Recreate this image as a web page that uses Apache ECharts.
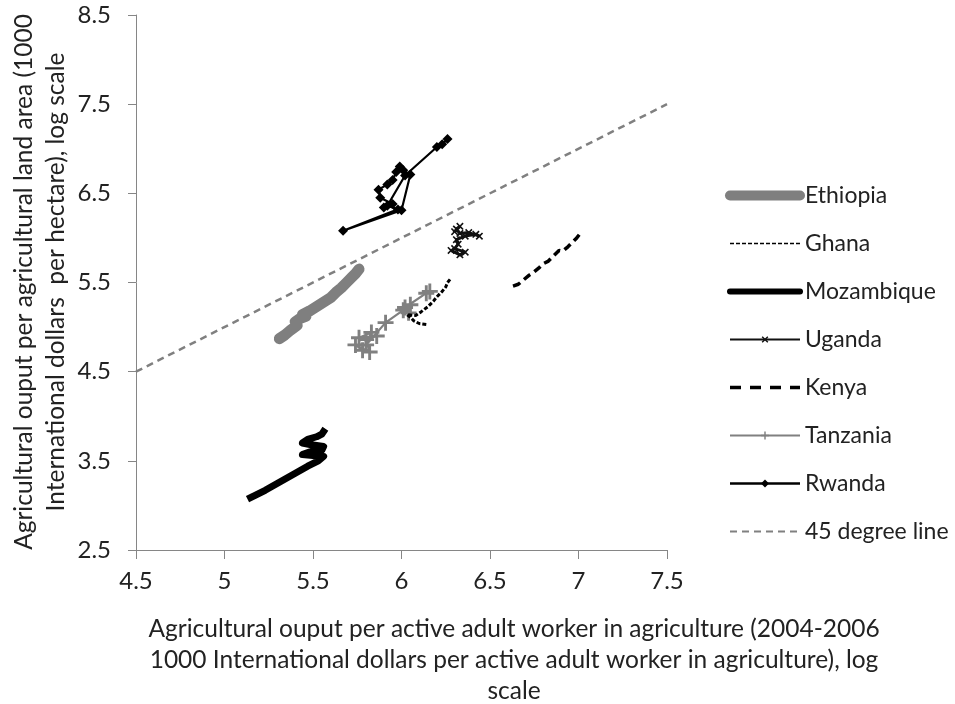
<!DOCTYPE html>
<html>
<head>
<meta charset="utf-8">
<script src="https://cdn.jsdelivr.net/npm/echarts@6/dist/echarts.min.js"></script>
<style>html,body{margin:0;padding:0;background:#fff}#c{width:955px;height:704px}</style>
</head>
<body>
<div id="c"></div>
<script>
const xTicks = [4.5, 5, 5.5, 6, 6.5, 7, 7.5];
const yTicks = [2.5, 3.5, 4.5, 5.5, 6.5, 7.5, 8.5];
const seriesNames = ['Ethiopia', 'Ghana', 'Mozambique', 'Uganda', 'Kenya', 'Tanzania', 'Rwanda', '45 degree line'];

const ethiopia = [[5.31,4.87],[5.34,4.91],[5.37,4.96],[5.41,5.02],[5.40,5.06],[5.43,5.10],[5.46,5.12],[5.44,5.14],[5.48,5.18],[5.52,5.23],[5.56,5.28],[5.60,5.33],[5.63,5.39],[5.66,5.44],[5.69,5.50],[5.72,5.56],[5.74,5.60],[5.76,5.65]];
const ghana = [[6.14,5.03],[6.10,5.04],[6.07,5.07],[6.05,5.11],[6.03,5.14],[6.08,5.13],[6.11,5.17],[6.15,5.23],[6.18,5.29],[6.20,5.34],[6.23,5.40],[6.25,5.45],[6.26,5.50],[6.28,5.55]];
const mozambique = [[5.13,3.07],[5.17,3.11],[5.23,3.17],[5.31,3.26],[5.40,3.36],[5.47,3.44],[5.53,3.50],[5.56,3.55],[5.50,3.56],[5.44,3.57],[5.48,3.60],[5.55,3.62],[5.56,3.66],[5.49,3.68],[5.44,3.70],[5.47,3.74],[5.52,3.77],[5.55,3.80],[5.57,3.86]];
const uganda = [[6.28,5.86],[6.33,5.81],[6.36,5.84],[6.30,5.88],[6.32,5.93],[6.31,5.98],[6.36,6.02],[6.42,6.04],[6.44,6.02],[6.38,6.06],[6.33,6.05],[6.31,6.10],[6.33,6.13],[6.30,6.07]];
const kenya = [[6.63,5.46],[6.66,5.48],[6.69,5.53],[6.72,5.58],[6.75,5.62],[6.78,5.67],[6.80,5.71],[6.83,5.74],[6.86,5.80],[6.89,5.86],[6.91,5.85],[6.94,5.90],[6.97,5.96],[6.99,6.00],[7.01,6.05]];
const tanzania = [[5.78,4.74],[5.74,4.80],[5.82,4.72],[5.80,4.86],[5.86,4.90],[5.76,4.88],[5.83,4.94],[5.80,4.80],[5.91,5.05],[6.01,5.19],[6.04,5.16],[6.05,5.25],[6.02,5.22],[6.14,5.38],[6.16,5.40]];
const rwanda = [[5.90,6.34],[5.95,6.38],[5.88,6.45],[5.87,6.54],[5.92,6.60],[5.95,6.65],[5.97,6.74],[5.99,6.80],[6.01,6.76],[6.05,6.71],[6.00,6.31],[5.67,6.08],[5.98,6.32],[5.92,6.36],[6.02,6.70],[6.20,7.02],[6.23,7.05],[6.26,7.11]];
const line45 = [[4.5,4.5],[7.5,7.5]];

const xTitle = 'Agricultural ouput per active adult worker in agriculture (2004-2006\n1000 International dollars per active adult worker in agriculture), log\nscale';
const yTitle = 'Agricultural ouput per agricultural land area (1000\nInternational dollars  per hectare), log scale';

const FONT = 'Lato, "Liberation Sans", sans-serif';
const TXT = '#222';
const PLUS = 'path://M-1,-0.18L-0.18,-0.18L-0.18,-1L0.18,-1L0.18,-0.18L1,-0.18L1,0.18L0.18,0.18L0.18,1L-0.18,1L-0.18,0.18L-1,0.18Z';
const HIDE = {color: 'rgba(0,0,0,0)', borderColor: 'rgba(0,0,0,0)', borderWidth: 0, opacity: 0};

const chart = echarts.init(document.getElementById('c'), null, {renderer: 'canvas'});
const option = {
  animation: false,
  backgroundColor: '#fff',
  grid: {left: 136, right: 288, top: 15, bottom: 154, containLabel: false},
  xAxis: {
    type: 'value', min: xTicks[0], max: xTicks[xTicks.length - 1], interval: 0.5,
    splitLine: {show: false},
    axisLine: {onZero: false, lineStyle: {color: '#868686', width: 1}},
    axisTick: {show: true, inside: false, length: 9, lineStyle: {color: '#868686'}},
    axisLabel: {color: TXT, fontFamily: FONT, fontSize: 24, margin: 19}
  },
  yAxis: {
    type: 'value', min: yTicks[0], max: yTicks[yTicks.length - 1], interval: 1,
    splitLine: {show: false},
    axisLine: {show: true, onZero: false, lineStyle: {color: '#868686', width: 1}},
    axisTick: {show: true, inside: false, length: 8, lineStyle: {color: '#868686'}},
    axisLabel: {color: TXT, fontFamily: FONT, fontSize: 24, margin: 25}
  },
  legend: {
    orient: 'vertical', left: 725, top: 184, padding: 0,
    itemWidth: 70, itemHeight: 10, itemGap: 25,
    data: [
      {name: seriesNames[0], itemStyle: HIDE, lineStyle: {width: 10, cap: 'round', color: '#7f7f7f'}},
      {name: seriesNames[1], itemStyle: HIDE, lineStyle: {width: 1.5, type: [4, 2], color: '#000'}},
      {name: seriesNames[2], itemStyle: HIDE, lineStyle: {width: 6, cap: 'round', color: '#000'}},
      {name: seriesNames[3], lineStyle: {width: 2, color: '#111'}},
      {name: seriesNames[4], itemStyle: HIDE, lineStyle: {width: 3.5, type: [11, 9], color: '#000'}},
      {name: seriesNames[5], lineStyle: {width: 2, color: '#808080'}},
      {name: seriesNames[6], lineStyle: {width: 2.5, color: '#000'}},
      {name: seriesNames[7], itemStyle: HIDE, lineStyle: {width: 2, type: [7, 5], color: '#808080'}}
    ],
    textStyle: {color: TXT, fontFamily: FONT, fontSize: 23, lineHeight: 21, padding: [0,0,0,0]}
  },
  graphic: [
    {type: 'text', x: 514, y: 614, style: {text: xTitle, fontFamily: FONT, fontSize: 24.5, lineHeight: 31, textAlign: 'center', textVerticalAlign: 'top', fill: TXT}},
    {type: 'text', x: 40, y: 282, rotation: Math.PI / 2, style: {text: yTitle, fontFamily: FONT, fontSize: 24.5, lineHeight: 32, textAlign: 'center', textVerticalAlign: 'middle', fill: TXT}}
  ],
  series: [
    {name: seriesNames[0], type: 'line', data: ethiopia, symbol: 'none', z: 3,
     lineStyle: {color: '#7f7f7f', width: 11, cap: 'round', join: 'round'}, itemStyle: {color: '#7f7f7f'}},
    {name: seriesNames[1], type: 'line', data: ghana, symbol: 'none', z: 4,
     lineStyle: {color: '#000', width: 3, type: [4, 2]}, itemStyle: {color: '#000'}},
    {name: seriesNames[2], type: 'line', data: mozambique, symbol: 'none', z: 3,
     lineStyle: {color: '#000', width: 7, join: 'round'}, itemStyle: {color: '#000'}},
    {name: seriesNames[3], type: 'line', data: uganda, symbol: PLUS, symbolRotate: 45, symbolSize: 9, z: 3,
     lineStyle: {color: '#111', width: 3}, itemStyle: {color: '#111'}},
    {name: seriesNames[4], type: 'line', data: kenya, symbol: 'none', z: 3,
     lineStyle: {color: '#000', width: 3.5, type: [8, 5]}, itemStyle: {color: '#000'}},
    {name: seriesNames[5], type: 'line', data: tanzania, symbol: PLUS, symbolSize: 16, z: 3,
     lineStyle: {color: '#808080', width: 2.2}, itemStyle: {color: '#808080'}},
    {name: seriesNames[6], type: 'line', data: rwanda, symbol: 'diamond', symbolSize: 10, z: 3,
     lineStyle: {color: '#000', width: 2.2}, itemStyle: {color: '#000'}},
    {name: seriesNames[7], type: 'line', data: line45, symbol: 'none', z: 2,
     lineStyle: {color: '#808080', width: 2.5, type: [7, 5]}, itemStyle: {color: '#808080'}}
  ]
};
chart.setOption(option);
</script>
</body>
</html>
